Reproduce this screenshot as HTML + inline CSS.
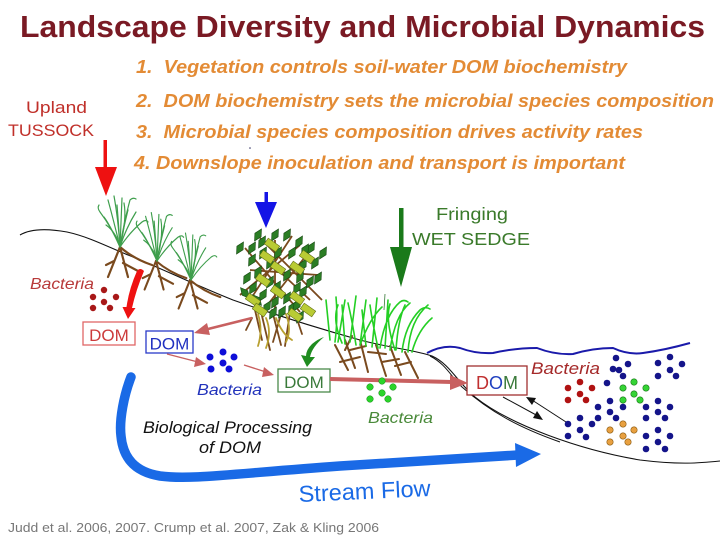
<!DOCTYPE html>
<html><head><meta charset="utf-8"><style>
html,body{margin:0;padding:0;background:#fff;}
svg{display:block;}
text{font-family:"Liberation Sans",Arial,sans-serif;}
</style></head><body>
<svg width="720" height="540" viewBox="0 0 720 540" xmlns="http://www.w3.org/2000/svg">
<defs>
  <g id="tuft" fill="none" stroke="#3e9e4c" stroke-width="1.2" stroke-linecap="round">
    <path d="M0,0 Q-8,-19 -20,-35 Q-23,-39 -21,-42"/>
    <path d="M0,0 Q-6,-25 -12,-47"/>
    <path d="M0,0 Q-2,-29 -6,-51"/>
    <path d="M0,0 Q1,-25 2,-49"/>
    <path d="M0,0 Q4,-25 10,-47 Q13,-50 16,-48"/>
    <path d="M0,0 Q6,-19 16,-35"/>
    <path d="M0,0 Q10,-15 22,-25 Q26,-28 28,-25"/>
    <path d="M0,0 Q-4,-15 -14,-22"/>
    <path d="M0,0 Q3,-17 8,-37"/>
    <path d="M0,0 Q-1,-17 -3,-42"/>
    <path d="M0,0 Q-10,-22 -16,-30"/>
    <path d="M0,0 Q7,-28 4,-44"/>
  </g>
  <g id="roots" fill="none" stroke="#7a4a1e" stroke-width="2.2" stroke-linecap="round">
    <path d="M0,0 L-8,20 L-12,30"/>
    <path d="M0,0 Q14,12 32,18"/>
    <path d="M0,0 L8,30"/>
    <path d="M3,16 L18,24"/>
    <path d="M-6,14 L-14,18"/>
  </g>
  <path id="lf" d="M0,-7 L3.6,0 L0,7 L-3.6,0Z" fill="#2b7d24" stroke="#174a12" stroke-width="0.6"/>
  <rect id="rc" x="-7" y="-3.5" width="14" height="7" fill="#b9cb34" stroke="#5d6c12" stroke-width="0.6"/>
</defs>

<!-- Title -->
<text x="20" y="37" font-size="31" font-weight="bold" fill="#7a1a24" textLength="685" lengthAdjust="spacingAndGlyphs">Landscape Diversity and Microbial Dynamics</text>

<!-- List -->
<g font-size="18.5" font-weight="bold" font-style="italic" fill="#e38b35">
<text x="136" y="73" textLength="491" lengthAdjust="spacingAndGlyphs">1.&#160; Vegetation controls soil-water DOM biochemistry</text>
<text x="136" y="107" textLength="578" lengthAdjust="spacingAndGlyphs">2.&#160; DOM biochemistry sets the microbial species composition</text>
<text x="136" y="138" textLength="507" lengthAdjust="spacingAndGlyphs">3.&#160; Microbial species composition drives activity rates</text>
<text x="134" y="169" textLength="491" lengthAdjust="spacingAndGlyphs">4. Downslope inoculation and transport is important</text>
</g>
<circle cx="250" cy="148" r="0.8" fill="#336"/>

<!-- Upland tussock label + arrow -->
<text x="26" y="113" font-size="17" fill="#c0302a" textLength="61" lengthAdjust="spacingAndGlyphs">Upland</text>
<text x="8" y="136" font-size="17" fill="#c0302a" textLength="86" lengthAdjust="spacingAndGlyphs">TUSSOCK</text>
<rect x="103.5" y="140" width="3.5" height="29" fill="#ee1111"/>
<polygon points="95,167 117,167 106,196" fill="#ee1111"/>

<!-- Blue arrow -->
<rect x="264.5" y="192" width="3.5" height="12" fill="#1414e6"/>
<polygon points="255,202 277,202 266,228" fill="#1414e6"/>

<!-- Green arrow + label -->
<rect x="399" y="208" width="4.5" height="42" fill="#1a7a1a"/>
<polygon points="390,247 412,247 401,287" fill="#1a7a1a"/>
<text x="436" y="220" font-size="17.5" fill="#3a7a2a" textLength="72" lengthAdjust="spacingAndGlyphs">Fringing</text>
<text x="412" y="245" font-size="17.5" fill="#3a7a2a" textLength="118" lengthAdjust="spacingAndGlyphs">WET SEDGE</text>

<!-- Ground lines -->
<path d="M20,235 C30,229 45,228 67,232 C90,237 110,248 133,257 C160,268 200,287 233,300 C270,313 310,326 360,340 C390,348 415,350 432,356 C450,364 458,383 475,397 C510,425 580,450 640,460 C680,465 700,463 720,461" fill="none" stroke="#111" stroke-width="1.1"/>
<path d="M430,356 C446,364 452,378 462,387 C490,412 520,428 560,442" fill="none" stroke="#111" stroke-width="1"/>

<!-- Water surface -->
<path d="M427,353 Q444,344 460,348 Q476,354 493,353 Q515,348 537,348 Q555,355 573,354 Q593,348 613,348 Q628,355 643,353 Q665,350 690,343" fill="none" stroke="#1a1aaa" stroke-width="2"/>

<!-- Tussocks -->
<use href="#roots" transform="translate(120,247)"/>
<use href="#roots" transform="translate(156,261) scale(0.95)"/>
<use href="#roots" transform="translate(190,280) scale(0.95)"/>
<use href="#tuft" transform="translate(120,247)"/>
<use href="#tuft" transform="translate(157,261) scale(0.95)"/>
<use href="#tuft" transform="translate(191,280) scale(0.92)"/>

<!-- Shrub roots -->
<g fill="none" stroke-width="1.8" stroke-linecap="round">
<path d="M255,310 L262,340 M262,316 L270,350 M272,310 L281,345 M281,314 L273,342 M290,312 L285,346 M296,316 L302,334 M252,318 L246,330" stroke="#7a4a1e"/>
<path d="M258,314 Q263,330 258,346 M286,314 Q292,330 286,342 M266,318 Q272,332 266,348 M276,318 Q282,334 292,340" stroke="#b8a030"/>
</g>
<!-- Shrub branches -->
<g stroke="#7a4a1e" stroke-width="1.8" fill="none">
<path d="M245,248 L300,312 M260,238 L322,300 M292,236 L250,300 M312,248 L262,312 M275,240 L275,315 M250,270 L318,275 M240,295 L300,245 M262,255 L310,300"/>
</g>
<!-- Shrub leaves -->
<g>
<use href="#lf" transform="translate(240,248) rotate(30)"/>
<use href="#lf" transform="translate(252,248) rotate(30)"/>
<use href="#lf" transform="translate(258,235) rotate(30)"/>
<use href="#lf" transform="translate(275,235) rotate(30)"/>
<use href="#lf" transform="translate(287,235) rotate(30)"/>
<use href="#lf" transform="translate(299,242) rotate(30)"/>
<use href="#lf" transform="translate(311,248) rotate(30)"/>
<use href="#lf" transform="translate(323,253) rotate(30)"/>
<use href="#lf" transform="translate(263,253) rotate(30)"/>
<use href="#lf" transform="translate(278,253) rotate(30)"/>
<use href="#lf" transform="translate(292,253) rotate(30)"/>
<use href="#lf" transform="translate(252,260) rotate(30)"/>
<use href="#lf" transform="translate(270,263) rotate(30)"/>
<use href="#lf" transform="translate(303,265) rotate(30)"/>
<use href="#lf" transform="translate(315,263) rotate(30)"/>
<use href="#lf" transform="translate(258,272) rotate(30)"/>
<use href="#lf" transform="translate(287,275) rotate(30)"/>
<use href="#lf" transform="translate(300,277) rotate(30)"/>
<use href="#lf" transform="translate(247,278) rotate(30)"/>
<use href="#lf" transform="translate(270,282) rotate(30)"/>
<use href="#lf" transform="translate(310,282) rotate(30)"/>
<use href="#lf" transform="translate(318,278) rotate(30)"/>
<use href="#lf" transform="translate(253,288) rotate(30)"/>
<use href="#lf" transform="translate(277,287) rotate(30)"/>
<use href="#lf" transform="translate(297,288) rotate(30)"/>
<use href="#lf" transform="translate(245,293) rotate(-40)"/>
<use href="#lf" transform="translate(263,295) rotate(30)"/>
<use href="#lf" transform="translate(303,292) rotate(30)"/>
<use href="#lf" transform="translate(257,300) rotate(-40)"/>
<use href="#lf" transform="translate(275,302) rotate(30)"/>
<use href="#lf" transform="translate(287,298) rotate(30)"/>
<use href="#lf" transform="translate(267,307) rotate(30)"/>
<use href="#lf" transform="translate(292,308) rotate(30)"/>
<use href="#lf" transform="translate(282,312) rotate(30)"/>
<use href="#lf" transform="translate(300,317) rotate(30)"/>
<use href="#lf" transform="translate(273,313) rotate(30)"/>
<use href="#lf" transform="translate(297,305) rotate(30)"/>
<use href="#lf" transform="translate(262,242) rotate(30)"/>
<use href="#lf" transform="translate(305,250) rotate(30)"/>
</g>
<g>
<use href="#rc" transform="translate(272,245) rotate(35)"/>
<use href="#rc" transform="translate(267,257) rotate(35)"/>
<use href="#rc" transform="translate(307,257) rotate(35)"/>
<use href="#rc" transform="translate(278,268) rotate(35)"/>
<use href="#rc" transform="translate(297,268) rotate(35)"/>
<use href="#rc" transform="translate(263,280) rotate(35)"/>
<use href="#rc" transform="translate(278,292) rotate(35)"/>
<use href="#rc" transform="translate(297,298) rotate(35)"/>
<use href="#rc" transform="translate(253,300) rotate(35)"/>
<use href="#rc" transform="translate(260,310) rotate(35)"/>
<use href="#rc" transform="translate(308,310) rotate(35)"/>
<use href="#rc" transform="translate(295,315) rotate(35)"/>
</g>

<!-- Sedge roots -->
<g stroke="#7a4a1e" stroke-width="2" fill="none" stroke-linecap="round">
<path d="M335,345 L348,370 M345,340 L355,368 M350,350 L366,346 M360,340 L368,372 M368,352 L386,354 M376,345 L386,376 M382,362 L399,359 M390,346 L401,375 M395,366 L411,362 M405,352 L418,378 M340,362 L360,357 M352,336 L345,350"/>
</g>
<!-- Sedge blades -->
<g stroke="#24cf24" stroke-width="1.6" fill="none" stroke-linecap="round">
<path d="M330,340 L326,300 M335,342 Q338,318 336,297 M338,342 L345,300 M345,344 L342,305 M350,342 L356,296 M356,345 Q352,320 348,303 M360,345 L366,300 M366,346 L362,310 M372,347 L377,298 M378,348 Q372,320 370,305 M385,348 L388,300 M390,350 Q395,315 410,303 M396,350 Q398,320 405,305 M402,352 Q405,325 420,310 Q425,306 430,309 M408,352 Q410,320 428,305 M395,350 Q385,320 390,304 M380,348 Q385,315 400,302 Q404,299 408,302 M412,352 Q418,330 432,318 M360,345 Q370,318 382,307 M342,343 Q332,320 338,305"/>
</g>
<path d="M384,310 L385,294" stroke="#3a7a3a" stroke-width="0.8"/>

<!-- Red curved arrow -->
<path d="M137,271 Q140,267 144,271 Q136,290 132,308 L135.5,308 L128,319 L122.5,307 L126.5,307 Q129,289 137,271 Z" fill="#ee1111"/>
<!-- Green curved arrow -->
<path d="M324,337 Q318,339 312,344 Q306,350 306,356 L301,355 L307,367 L315,357 L310,357 Q312,347 324,337 Z" fill="#1f8c1f"/>

<!-- Bacteria left red -->
<text x="30" y="289" font-size="16" font-style="italic" fill="#b83a3a" textLength="64" lengthAdjust="spacingAndGlyphs">Bacteria</text>
<g fill="#a81818">
<circle cx="93" cy="297" r="3.2"/><circle cx="104" cy="290" r="3.2"/><circle cx="116" cy="297" r="3.2"/>
<circle cx="93" cy="308" r="3.2"/><circle cx="104" cy="302" r="3.2"/><circle cx="110" cy="308" r="3.2"/>
</g>

<!-- DOM boxes -->
<rect x="83" y="322" width="52" height="23" fill="#fff" stroke="#e06666" stroke-width="1.3"/>
<text x="109" y="341" font-size="17" fill="#cc3b3b" text-anchor="middle">DOM</text>
<rect x="146" y="331" width="47" height="22" fill="#fff" stroke="#2a3ac8" stroke-width="1.3"/>
<text x="169.5" y="349.5" font-size="17" fill="#2030c0" text-anchor="middle">DOM</text>
<rect x="278" y="369" width="52" height="23" fill="#fff" stroke="#4a8a4a" stroke-width="1.3"/>
<text x="304" y="388" font-size="17" fill="#3a7a3a" text-anchor="middle">DOM</text>
<rect x="467" y="366" width="60" height="29" fill="#fff" stroke="#a03030" stroke-width="1.3"/>
<text x="497" y="389" font-size="18" text-anchor="middle"><tspan fill="#c03030">D</tspan><tspan fill="#2040c0">O</tspan><tspan fill="#3a7a3a">M</tspan></text>

<!-- Rosy arrows -->
<g stroke="#c86060" fill="none">
<path d="M252,318 L204,330" stroke-width="2.6"/>
<path d="M167,354 L198,362" stroke-width="1.4"/>
<path d="M244,365 L266,372" stroke-width="1.4"/>
<path d="M330,379 L452,382" stroke-width="4"/>
</g>
<g fill="#c86060">
<polygon points="194,333 207,323 210,335"/>
<polygon points="206,364 196,357 194,367"/>
<polygon points="274,375 264,367 262,377"/>
<polygon points="468,383 450,375 450,390"/>
</g>

<!-- Blue bacteria -->
<g fill="#0e0ed8">
<circle cx="210" cy="357" r="3.5"/><circle cx="223" cy="352" r="3.5"/><circle cx="234" cy="357" r="3.5"/>
<circle cx="211" cy="369" r="3.5"/><circle cx="223" cy="363" r="3.5"/><circle cx="229" cy="369" r="3.5"/>
</g>
<text x="197" y="395" font-size="16" font-style="italic" fill="#2233bb" textLength="65" lengthAdjust="spacingAndGlyphs">Bacteria</text>

<!-- Green bacteria -->
<g fill="#2ad42a" stroke="#1a8a1a" stroke-width="0.5">
<circle cx="370" cy="387" r="3.3"/><circle cx="382" cy="381" r="3.3"/><circle cx="393" cy="387" r="3.3"/>
<circle cx="370" cy="399" r="3.3"/><circle cx="382" cy="393" r="3.3"/><circle cx="388" cy="399" r="3.3"/>
</g>
<text x="368" y="423" font-size="16" font-style="italic" fill="#4a8a3a" textLength="65" lengthAdjust="spacingAndGlyphs">Bacteria</text>

<!-- Right bacteria -->
<text x="531" y="374" font-size="17" font-style="italic" fill="#a52a2a" textLength="69" lengthAdjust="spacingAndGlyphs">Bacteria</text>
<g stroke="#111" stroke-width="1" fill="none">
<path d="M503,397 L538,416"/>
<path d="M566,422 L532,400"/>
</g>
<polygon points="543,420 533,418 537,411" fill="#111"/>
<polygon points="526,397 536,398 532,405" fill="#111"/>
<g fill="#14148a">
<circle cx="616" cy="358" r="3.3"/><circle cx="613" cy="369" r="3.3"/><circle cx="619" cy="370" r="3.3"/><circle cx="628" cy="364" r="3.3"/><circle cx="623" cy="376" r="3.3"/>
<circle cx="658" cy="363" r="3.3"/><circle cx="670" cy="357" r="3.3"/><circle cx="682" cy="364" r="3.3"/><circle cx="670" cy="370" r="3.3"/><circle cx="658" cy="376" r="3.3"/><circle cx="676" cy="376" r="3.3"/>
<circle cx="607" cy="383" r="3.3"/><circle cx="598" cy="407" r="3.3"/><circle cx="610" cy="401" r="3.3"/><circle cx="623" cy="407" r="3.3"/><circle cx="610" cy="412" r="3.3"/><circle cx="616" cy="418" r="3.3"/><circle cx="598" cy="418" r="3.3"/><circle cx="592" cy="424" r="3.3"/>
<circle cx="580" cy="418" r="3.3"/><circle cx="568" cy="424" r="3.3"/><circle cx="580" cy="430" r="3.3"/><circle cx="586" cy="437" r="3.3"/><circle cx="568" cy="436" r="3.3"/>
<circle cx="646" cy="407" r="3.3"/><circle cx="658" cy="401" r="3.3"/><circle cx="670" cy="407" r="3.3"/><circle cx="658" cy="412" r="3.3"/><circle cx="665" cy="418" r="3.3"/><circle cx="646" cy="418" r="3.3"/>
<circle cx="658" cy="430" r="3.3"/><circle cx="646" cy="436" r="3.3"/><circle cx="670" cy="436" r="3.3"/><circle cx="658" cy="442" r="3.3"/><circle cx="646" cy="449" r="3.3"/><circle cx="665" cy="449" r="3.3"/>
</g>
<g fill="#b01212">
<circle cx="568" cy="388" r="3.3"/><circle cx="580" cy="382" r="3.3"/><circle cx="592" cy="388" r="3.3"/><circle cx="580" cy="394" r="3.3"/><circle cx="568" cy="400" r="3.3"/><circle cx="586" cy="400" r="3.3"/>
</g>
<g fill="#35d435" stroke="#1a7a1a" stroke-width="0.6">
<circle cx="623" cy="388" r="3.2"/><circle cx="634" cy="382" r="3.2"/><circle cx="646" cy="388" r="3.2"/><circle cx="634" cy="394" r="3.2"/><circle cx="623" cy="400" r="3.2"/><circle cx="640" cy="400" r="3.2"/>
</g>
<g fill="#e8a040" stroke="#8a5a10" stroke-width="0.6">
<circle cx="623" cy="424" r="3.2"/><circle cx="610" cy="430" r="3.2"/><circle cx="634" cy="430" r="3.2"/><circle cx="623" cy="436" r="3.2"/><circle cx="610" cy="442" r="3.2"/><circle cx="628" cy="442" r="3.2"/>
</g>

<!-- Stream flow arrow -->
<path d="M131,377 C124,395 119,420 121,436 C123,458 135,472 160,476 C190,480 230,474 340,466 L518,455" fill="none" stroke="#1a6ae6" stroke-width="9.5" stroke-linecap="round" stroke-linejoin="round"/>
<polygon points="515,443 541,454 516,467" fill="#1a6ae6"/>

<!-- Biological Processing -->
<text x="143" y="433" font-size="17" font-style="italic" fill="#111" textLength="169" lengthAdjust="spacingAndGlyphs">Biological Processing</text>
<text x="199" y="453" font-size="17" font-style="italic" fill="#111" textLength="62" lengthAdjust="spacingAndGlyphs">of DOM</text>

<!-- Stream Flow label -->
<text x="299" y="502" font-size="23" fill="#1a6ae6" textLength="132" lengthAdjust="spacingAndGlyphs" transform="rotate(-2.6 299 502)">Stream Flow</text>

<!-- Citation -->
<text x="8" y="532" font-size="13" fill="#777" textLength="371" lengthAdjust="spacingAndGlyphs">Judd et al. 2006, 2007. Crump et al. 2007, Zak &amp; Kling 2006</text>
</svg>
</body></html>
